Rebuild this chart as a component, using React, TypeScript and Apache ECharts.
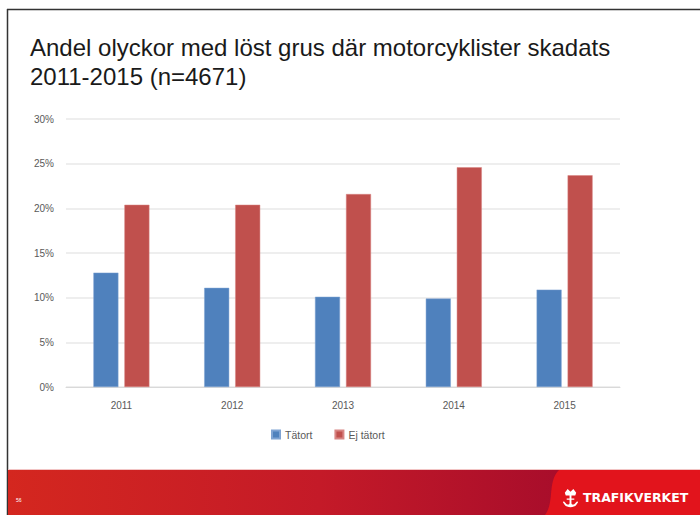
import React, { useEffect, useRef } from "react";
import * as echarts from "echarts";

const categories = ["2011", "2012", "2013", "2014", "2015"];
const tatort = [12.8, 11.1, 10.1, 9.9, 10.9];
const ejTatort = [20.4, 20.4, 21.6, 24.6, 23.7];
const seriesNames = ["Tätort", "Ej tätort"];
const titleLines = ["Andel olyckor med löst grus där motorcyklister skadats", "2011-2015 (n=4671)"];

let registered = false;
function registerShapes() {
  if (registered) return;
  registered = true;
  echarts.graphic.registerShape(
    "logoPanel",
    echarts.graphic.extendPath("M 14 0 L 160 0 L 160 45 L 0 45 C 10 32 2 12 14 0 Z", {})
  );
  echarts.graphic.registerShape(
    "emblem",
    echarts.graphic.extendPath(
      "M 4 6 L 7 2 L 10 5 L 13 2 L 16 6 L 15 9 L 5 9 Z M 9 9 L 11 9 L 11 17 C 11 19 14 19 15 17 L 17 15 L 18 16 L 16 19 C 14 22 6 22 4 19 L 2 16 L 3 15 L 5 17 C 6 19 9 19 9 17 Z M 6 12 L 14 12 L 14 13.5 L 6 13.5 Z",
      {}
    )
  );
}

export default function App() {
  const ref = useRef<HTMLDivElement>(null);
  useEffect(() => {
    if (!ref.current) return;
    registerShapes();
    const chart = echarts.init(ref.current, undefined, { renderer: "svg" });
    const labelFont = "Liberation Sans, Arial, sans-serif";
    chart.setOption({
      animation: false,
      backgroundColor: "#ffffff",
      grid: { left: 66, right: 80, top: 119, bottom: 128 },
      legend: {
        data: seriesNames,
        left: 266,
        top: 424,
        itemWidth: 8,
        itemHeight: 8,
        itemGap: 22,
        icon: "rect",
        textStyle: { color: "#595959", fontSize: 10.5, fontFamily: labelFont },
      },
      xAxis: {
        type: "category",
        data: categories,
        axisLine: { lineStyle: { color: "#d9d9d9" } },
        axisTick: { show: false },
        axisLabel: { color: "#595959", fontSize: 10, fontFamily: labelFont, margin: 13 },
      },
      yAxis: {
        type: "value",
        min: 0,
        max: 30,
        interval: 5,
        axisLine: { show: false },
        axisTick: { show: false },
        splitLine: { lineStyle: { color: "#e8e8e8", width: 1.5 } },
        axisLabel: {
          color: "#595959",
          fontSize: 10,
          fontFamily: labelFont,
          margin: 12,
          formatter: (v: number) => v + "%",
        },
      },
      series: [
        {
          name: seriesNames[0],
          type: "bar",
          data: tatort,
          barWidth: 25,
          barGap: "24%",
          itemStyle: { color: "#4f81bd", borderColor: "#7fa3d3", borderWidth: 0.5 },
        },
        {
          name: seriesNames[1],
          type: "bar",
          data: ejTatort,
          barWidth: 25,
          itemStyle: { color: "#c0504d", borderColor: "#d88583", borderWidth: 0.5 },
        },
      ],
      graphic: [
        { type: "line", shape: { x1: 7, y1: 9.5, x2: 700, y2: 9.5 }, style: { stroke: "#333333", lineWidth: 1.5 } },
        { type: "line", shape: { x1: 7.5, y1: 9, x2: 7.5, y2: 515 }, style: { stroke: "#333333", lineWidth: 1.5 } },
        {
          type: "text",
          left: 30,
          top: 33,
          style: {
            text: titleLines.join("\n"),
            fill: "#1a1a1a",
            font: "24px Liberation Sans, Arial, sans-serif",
            lineHeight: 29,
          },
        },
        {
          type: "rect",
          shape: { x: 8, y: 470, width: 692, height: 45 },
          style: {
            fill: new echarts.graphic.LinearGradient(0, 0, 1, 0, [
              { offset: 0, color: "#d4271f" },
              { offset: 0.45, color: "#c41a28" },
              { offset: 0.8, color: "#a80d2b" },
              { offset: 1, color: "#a80d2b" },
            ]),
          },
        },
        { type: "line", shape: { x1: 8, y1: 469.5, x2: 700, y2: 469.5 }, style: { stroke: "#f2c4c4", lineWidth: 1 } },
        { type: "logoPanel", x: 545, y: 470, style: { fill: "#e2141c" } },
        { type: "emblem", x: 561, y: 487, scaleX: 0.95, scaleY: 0.95, style: { fill: "#ffffff" } },
        {
          type: "text",
          left: 583,
          top: 491,
          style: { text: "TRAFIKVERKET", fill: "#ffffff", font: "bold 12.5px DejaVu Sans, sans-serif" },
        },
        {
          type: "text",
          left: 16,
          top: 497,
          style: { text: "56", fill: "#ffffff", font: "5px Liberation Sans, Arial, sans-serif" },
        },
      ],
    });
    return () => chart.dispose();
  }, []);
  return (
    <div
      ref={ref}
      style={{ position: "absolute", left: 0, top: 0, width: 700, height: 515 }}
    />
  );
}
